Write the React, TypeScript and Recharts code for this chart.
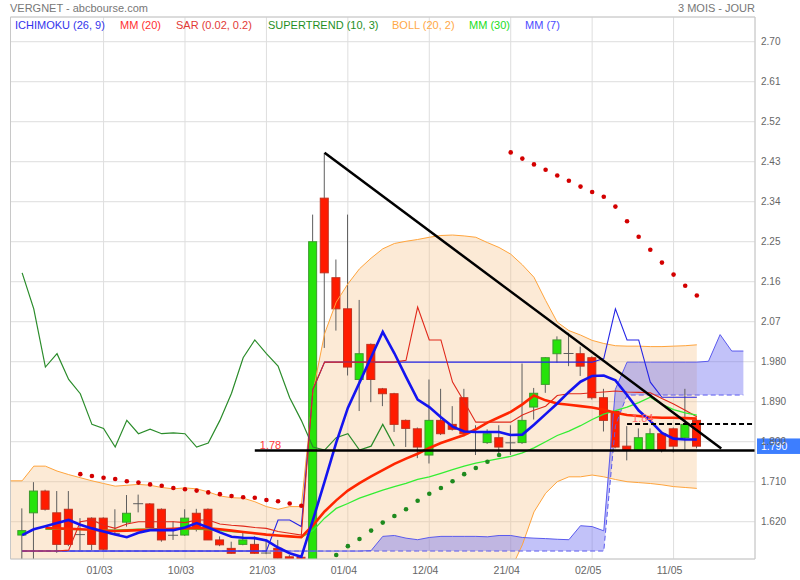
import React from 'react';
import {
  ComposedChart,
  Bar,
  Line,
  Area,
  Scatter,
  XAxis,
  YAxis,
  CartesianGrid,
  ReferenceLine,
} from 'recharts';

const FONT = '"Liberation Sans", Arial, sans-serif';

// Daily sessions, index 0 = 19/02, last index 58 = 13/05
const opens = [
  1.590, 1.640, 1.689, 1.640, 1.648, 1.592, 1.628, 1.628, 1.594, 1.619,
  1.661, 1.660, 1.648, 1.590, 1.590, 1.639, 1.648, 1.579, 1.560, 1.569,
  1.569, 1.550, 1.560, 1.541, 1.540, 1.530, 2.348, 2.169, 2.099, 1.940,
  2.019, 1.919, 1.908, 1.848, 1.829, 1.770, 1.848, 1.839, 1.899, 1.822,
  1.798, 1.809, 1.798, 1.798, 1.878, 1.929, 1.998, 1.999, 1.998, 1.989,
  1.899, 1.868, 1.790, 1.781, 1.781, 1.818, 1.829, 1.809, 1.848,
];
const highs = [
  1.650, 1.709, 1.692, 1.689, 1.689, 1.628, 1.630, 1.630, 1.648, 1.680,
  1.681, 1.662, 1.650, 1.621, 1.648, 1.649, 1.650, 1.587, 1.575, 1.597,
  1.587, 1.579, 1.579, 1.545, 1.545, 2.311, 2.450, 2.210, 2.311, 2.119,
  2.021, 1.921, 1.910, 1.850, 1.832, 1.940, 1.919, 1.880, 1.919, 1.837,
  1.828, 1.837, 1.837, 1.976, 1.921, 1.990, 2.037, 2.045, 2.014, 1.992,
  1.919, 1.870, 1.835, 1.830, 1.830, 1.820, 1.832, 1.919, 1.850,
];
const lows = [
  1.530, 1.530, 1.645, 1.550, 1.565, 1.556, 1.556, 1.556, 1.590, 1.609,
  1.641, 1.607, 1.575, 1.579, 1.588, 1.598, 1.579, 1.565, 1.548, 1.567,
  1.548, 1.547, 1.537, 1.530, 1.525, 1.525, 2.011, 2.050, 1.949, 1.869,
  1.889, 1.880, 1.822, 1.788, 1.763, 1.751, 1.815, 1.825, 1.812, 1.770,
  1.795, 1.770, 1.770, 1.795, 1.850, 1.910, 1.978, 1.970, 1.948, 1.895,
  1.823, 1.785, 1.758, 1.779, 1.779, 1.776, 1.776, 1.781, 1.785,
];
const closes = [
  1.600, 1.689, 1.648, 1.569, 1.569, 1.590, 1.569, 1.558, 1.592, 1.639,
  1.660, 1.607, 1.579, 1.589, 1.628, 1.607, 1.579, 1.568, 1.549, 1.579,
  1.549, 1.549, 1.538, 1.535, 1.530, 2.250, 2.180, 2.099, 1.968, 1.998,
  1.940, 1.908, 1.839, 1.830, 1.788, 1.848, 1.818, 1.828, 1.818, 1.820,
  1.818, 1.788, 1.797, 1.848, 1.909, 1.989, 2.029, 1.998, 1.970, 1.899,
  1.848, 1.788, 1.781, 1.809, 1.818, 1.781, 1.790, 1.839, 1.790,
];

// Moving averages, one value per session
const mm7 = [
  1.590, 1.603, 1.610, 1.617, 1.624, 1.613, 1.605, 1.598, 1.591, 1.585,
  1.595, 1.601, 1.601, 1.601, 1.607, 1.617, 1.607, 1.596, 1.586, 1.584,
  1.583, 1.578, 1.562, 1.549, 1.541, 1.624, 1.710, 1.798, 1.876, 1.933,
  1.990, 2.047, 1.999, 1.946, 1.895, 1.878, 1.855, 1.834, 1.823, 1.822,
  1.822, 1.822, 1.815, 1.816, 1.838, 1.862, 1.886, 1.912, 1.935, 1.948,
  1.949, 1.938, 1.905, 1.870, 1.847, 1.820, 1.807, 1.805, 1.805,
];
const mm20 = [
  null, null, 1.606, 1.605, 1.604, 1.603, 1.602, 1.600, 1.599, 1.600,
  1.601, 1.602, 1.603, 1.604, 1.605, 1.606, 1.605, 1.603, 1.600, 1.597,
  1.594, 1.591, 1.589, 1.587, 1.585, 1.612, 1.643, 1.668, 1.690, 1.707,
  1.722, 1.736, 1.750, 1.762, 1.773, 1.786, 1.797, 1.806, 1.815, 1.828,
  1.843, 1.855, 1.867, 1.884, 1.904, 1.893, 1.886, 1.883, 1.880, 1.877,
  1.872, 1.865, 1.860, 1.858, 1.855, 1.854, 1.854, 1.853, 1.852,
];
const mm30 = [
  null, null, 1.603, 1.603, 1.603, 1.602, 1.602, 1.601, 1.601, 1.602,
  1.603, 1.603, 1.604, 1.604, 1.604, 1.603, 1.602, 1.600, 1.598, 1.596,
  1.593, 1.591, 1.589, 1.587, 1.585, 1.600, 1.628, 1.650, 1.661, 1.673,
  1.682, 1.691, 1.699, 1.706, 1.715, 1.721, 1.729, 1.737, 1.745, 1.752,
  1.757, 1.762, 1.767, 1.775, 1.786, 1.800, 1.814, 1.824, 1.836, 1.850,
  1.862, 1.870, 1.878, 1.888, 1.900, 1.884, 1.872, 1.865, 1.860,
];

// Bollinger (20, 2): first value sits one slot before the first session
const bollUpper = [
  1.712, 1.712, 1.745, 1.745, 1.734, 1.726, 1.719, 1.712, 1.706, 1.700,
  1.702, 1.704, 1.702, 1.697, 1.694, 1.696, 1.694, 1.687, 1.678, 1.674,
  1.673, 1.665, 1.654, 1.648, 1.654, 1.654, 1.912, 2.043, 2.114, 2.155,
  2.189, 2.213, 2.234, 2.246, 2.251, 2.255, 2.260, 2.264, 2.265, 2.263,
  2.260, 2.248, 2.237, 2.222, 2.198, 2.170, 2.118, 2.069, 2.050, 2.040,
  2.028, 2.021, 2.016, 2.015, 2.015, 2.014, 2.014, 2.015, 2.016, 2.018,
];
const bollLower = [
  1.500, 1.500, 1.468, 1.467, 1.476, 1.482, 1.487, 1.492, 1.494, 1.498,
  1.498, 1.498, 1.502, 1.509, 1.514, 1.514, 1.518, 1.523, 1.528, 1.526,
  1.521, 1.523, 1.528, 1.530, 1.520, 1.516, 1.312, 1.243, 1.222, 1.225,
  1.225, 1.231, 1.238, 1.254, 1.273, 1.291, 1.312, 1.330, 1.347, 1.367,
  1.396, 1.438, 1.473, 1.512, 1.568, 1.642, 1.684, 1.710, 1.721, 1.721,
  1.725, 1.721, 1.715, 1.710, 1.708, 1.706, 1.703, 1.699, 1.697, 1.695,
];

// Ichimoku (26, 9)
const tenkan = [
  1.554, 1.554, 1.554, 1.554, 1.556, 1.620, 1.624, 1.612, 1.605, 1.615,
  1.620, 1.620, 1.620, 1.620, 1.618, 1.624, 1.624, 1.615, 1.612, 1.610,
  1.607, 1.605, 1.598, 1.594, 1.590, 1.918, 1.979, 1.979, 1.979, 1.979,
  1.979, 1.979, 1.979, 1.983, 2.103, 2.029, 2.029, 1.934, 1.890, 1.844,
  1.844, 1.844, 1.844, 1.860, 1.871, 1.880, 1.904, 1.908, 1.908, 1.910,
  1.912, 1.914, 1.912, 1.911, 1.910, 1.897, 1.885, 1.871, 1.856,
];
const kijun = [
  1.554, 1.554, 1.554, 1.554, 1.554, 1.554, 1.554, 1.554, 1.554, 1.554,
  1.554, 1.554, 1.554, 1.554, 1.554, 1.554, 1.554, 1.554, 1.554, 1.554,
  1.554, 1.554, 1.624, 1.624, 1.609, 1.918, 1.979, 1.979, 1.979, 1.979,
  1.979, 1.979, 1.979, 1.979, 1.979, 1.979, 1.979, 1.979, 1.979, 1.979,
  1.979, 1.979, 1.979, 1.979, 1.979, 1.979, 1.979, 1.979, 1.979, 1.979,
  1.987, 2.099, 2.029, 2.029, 1.934, 1.900, 1.900, 1.900, 1.900,
];
// Senkou A before the first shifted value, then (tenkan + kijun) / 2 moved 26 sessions ahead
const senkouAHead = [
  1.554, 1.554, 1.554, 1.554, 1.554, 1.554, 1.554, 1.554, 1.554, 1.554,
  1.554, 1.554, 1.554, 1.554, 1.554, 1.554, 1.554, 1.554, 1.554, 1.554,
  1.554, 1.554, 1.554, 1.554, 1.554, 1.554,
];
// Senkou B, index 0..62 (cloud runs past the last session)
const senkouB = [
  1.554, 1.554, 1.554, 1.554, 1.554, 1.554, 1.554, 1.554, 1.554, 1.554,
  1.554, 1.554, 1.554, 1.554, 1.554, 1.554, 1.554, 1.554, 1.554, 1.554,
  1.554, 1.554, 1.554, 1.554, 1.554, 1.554, 1.554, 1.554, 1.554, 1.554,
  1.554, 1.554, 1.554, 1.554, 1.554, 1.554, 1.554, 1.554, 1.554, 1.554,
  1.554, 1.554, 1.554, 1.554, 1.554, 1.554, 1.554, 1.554, 1.554, 1.554,
  1.554, 1.836, 1.905, 1.905, 1.905, 1.905, 1.905, 1.905, 1.905, 1.905,
  1.905, 1.905, 1.905,
];
const SHIFT = 26;

// Parabolic SAR (0.02, 0.2)
const sar = [
  null, null, null, null, null, 1.727, 1.723, 1.719, 1.716, 1.711,
  1.708, 1.704, 1.701, 1.696, 1.693, 1.690, 1.686, 1.682, 1.678, 1.675,
  1.674, 1.669, 1.666, 1.661, 1.656, null, null, 1.545, 1.565, 1.581,
  1.600, 1.618, 1.633, 1.648, 1.667, 1.683, 1.696, 1.711, 1.727, 1.741,
  1.755, 1.770, 2.451, 2.437, 2.424, 2.412, 2.399, 2.387, 2.374, 2.362,
  2.351, 2.329, 2.296, 2.261, 2.232, 2.203, 2.176, 2.151, 2.129,
];

// Drawn levels
const supportLevel = 1.78;
const supportFrom = 20;
const resistLevel = 1.84;
const resistFrom = 52;
const trendStart = { i: 26, v: 2.45 };
const trendEnd = { i: 60.1, v: 1.785 };

// Axes
const dateTickIdx = [7, 14, 21, 28, 35, 42, 49, 56];
const dateTickLabels = ['01/03', '10/03', '21/03', '01/04', '12/04', '21/04', '02/05', '11/05'];
const priceTicks = [1.62, 1.71, 1.8, 1.89, 1.98, 2.07, 2.16, 2.25, 2.34, 2.43, 2.52, 2.61, 2.7];
const yDomain: [number, number] = [1.5361, 2.7556];
const xDomain: [number, number] = [-1, 63];

const legendItems = [
  { label: 'ICHIMOKU (26, 9)', color: '#3434EC' },
  { label: 'MM (20)', color: '#FF3030' },
  { label: 'SAR (0.02, 0.2)', color: '#E23A36' },
  { label: 'SUPERTREND (10, 3)', color: '#1F8F1F' },
  { label: 'BOLL (20, 2)', color: '#FFA845' },
  { label: 'MM (30)', color: '#22DD22' },
  { label: 'MM (7)', color: '#4B4BFF' },
];
const legendX = [15, 120, 176, 268, 392, 469, 525];

const lastClose = closes[closes.length - 1];
const fmtPrice = (v: number) => (v >= 2 ? v.toFixed(2) : v.toFixed(3));

type Row = Record<string, any>;
const rows: Row[] = [];
for (let i = xDomain[0]; i <= 62; i++) {
  const r: Row = { i };
  if (i >= 0 && i < closes.length) {
    r.open = opens[i];
    r.high = highs[i];
    r.low = lows[i];
    r.close = closes[i];
    r.mm7 = mm7[i];
    r.mm20 = mm20[i];
    r.mm30 = mm30[i];
    r.tenkan = tenkan[i];
    r.kijun = kijun[i];
    r.sar = sar[i];
  }
  const b = i - xDomain[0];
  if (b < bollUpper.length) {
    r.bollUp = bollUpper[b];
    r.bollLow = bollLower[b];
  }
  if (i >= 0) {
    r.spanA = i < SHIFT ? senkouAHead[i] : (tenkan[i - SHIFT] + kijun[i - SHIFT]) / 2;
    r.spanB = senkouB[i];
  }
  if (i >= 0 && i + SHIFT < closes.length) r.chikou = closes[i + SHIFT];
  rows.push(r);
}

const candleRange = (d: Row) => (d.high == null ? null : [d.low, d.high]);
const bollRange = (d: Row) => (d.bollUp == null ? null : [d.bollLow, d.bollUp]);
const cloudRange = (d: Row) => (d.spanA == null ? null : [d.spanB, d.spanA]);

const WICK = '#5E5E5E';

function Candle(props: any) {
  const { x, y, width, height, payload } = props;
  if (!payload || payload.open == null || !isFinite(y) || !isFinite(height)) return <g />;
  const { open, close, high, low } = payload;
  let top = y;
  let h = height;
  if (h < 0) {
    top = y + h;
    h = -h;
  }
  const k = h / (high - low);
  const py = (v: number) => top + (high - v) * k;
  const cx = x + width / 2;
  const bodyTop = py(Math.max(open, close));
  const bodyBot = py(Math.min(open, close));
  const doji = Math.abs(close - open) < 0.004;
  const rising = close > open;
  return (
    <g>
      <line x1={cx} x2={cx} y1={top} y2={top + h} stroke={WICK} strokeWidth={1} />
      {doji ? (
        <line x1={cx - 5} x2={cx + 5} y1={(bodyTop + bodyBot) / 2} y2={(bodyTop + bodyBot) / 2} stroke={WICK} strokeWidth={1} />
      ) : (
        <rect
          x={cx - 4}
          y={bodyTop}
          width={8}
          height={Math.max(1, bodyBot - bodyTop)}
          fill={rising ? '#26E30A' : '#FF1B00'}
          stroke={rising ? '#3D9A2D' : '#C3301C'}
          strokeWidth={1}
        />
      )}
    </g>
  );
}

function SarDot(props: any) {
  const { cx, cy, payload } = props;
  if (!payload || payload.sar == null || !isFinite(cx) || !isFinite(cy)) return <g />;
  const above = payload.sar > payload.close;
  return <circle cx={cx} cy={cy} r={2.3} fill={above ? '#D30000' : '#1E8A1E'} />;
}

function DateTick(props: any) {
  const { x, y, payload } = props;
  const idx = dateTickIdx.indexOf(payload.value);
  return (
    <text x={x - 4} y={y} dy="0.71em" textAnchor="middle" fill="#666" fontSize={10.5} fontFamily={FONT}>
      {idx >= 0 ? dateTickLabels[idx] : ''}
    </text>
  );
}

function PriceTick(props: any) {
  const { x, y, payload } = props;
  return (
    <text x={x - 2} y={y} dy="0.355em" textAnchor="start" fill="#666" fontSize={10} fontFamily={FONT}>
      {fmtPrice(payload.value)}
    </text>
  );
}

function LevelLabel(props: any) {
  const { viewBox, text, color } = props;
  if (!viewBox) return null;
  return (
    <text x={viewBox.x + 5} y={viewBox.y - 2} fill={color} fontSize={11} fontFamily={FONT}>
      {text}
    </text>
  );
}

function PriceTag(props: any) {
  const { viewBox } = props;
  if (!viewBox) return null;
  const left = viewBox.x + viewBox.width + 2;
  return (
    <g>
      <rect x={left} y={viewBox.y - 7.7} width={44} height={15.5} fill="#3D7EFF" />
      <text x={left + 4} y={viewBox.y} dy="0.36em" fill="#fff" fontSize={10.5} fontFamily={FONT}>
        {fmtPrice(lastClose)}
      </text>
    </g>
  );
}

export default function App() {
  return (
    <div style={{ position: 'absolute', left: 0, top: 0, width: 800, height: 580, background: '#fff', fontFamily: FONT }}>
      <ComposedChart width={800} height={580} data={rows} margin={{ top: 17, right: 0, bottom: 0, left: 10.5 }}>
        <CartesianGrid stroke="#DEDEDE" />
        <XAxis
          type="number"
          dataKey="i"
          domain={xDomain}
          ticks={dateTickIdx}
          allowDataOverflow
          height={21}
          axisLine={{ stroke: '#C8C8C8' }}
          tickLine={false}
          tick={<DateTick />}
        />
        <YAxis
          type="number"
          orientation="right"
          domain={yDomain}
          ticks={priceTicks}
          allowDataOverflow
          width={45}
          axisLine={{ stroke: '#C8C8C8' }}
          tickLine={false}
          tick={<PriceTick />}
        />
        <ReferenceLine y={yDomain[1]} stroke="#C8C8C8" />
        <ReferenceLine x={xDomain[0]} stroke="#C8C8C8" />

        <Area dataKey={bollRange} fill="#F7C48A" fillOpacity={0.35} stroke="none" isAnimationActive={false} />
        <Area dataKey={cloudRange} fill="#6E6EF0" fillOpacity={0.42} stroke="none" isAnimationActive={false} />
        <Line dataKey="bollUp" stroke="#FFA43C" strokeWidth={1} dot={false} isAnimationActive={false} />
        <Line dataKey="bollLow" stroke="#FFA43C" strokeWidth={1} dot={false} isAnimationActive={false} />
        <Line dataKey="spanA" stroke="#5A5AEE" strokeWidth={1} dot={false} isAnimationActive={false} />
        <Line dataKey="spanB" stroke="#5A5AEE" strokeWidth={1} strokeDasharray="5 3" dot={false} isAnimationActive={false} />
        <Line dataKey="chikou" stroke="#2B8C2B" strokeWidth={1.2} dot={false} isAnimationActive={false} />

        <Bar dataKey={candleRange} shape={<Candle />} barSize={9} isAnimationActive={false} />

        <Line dataKey="kijun" stroke="#2424E6" strokeWidth={1.1} dot={false} isAnimationActive={false} />
        <Line dataKey="tenkan" stroke="#E0281A" strokeWidth={1.1} dot={false} isAnimationActive={false} />
        <Line dataKey="mm30" stroke="#33EE33" strokeWidth={1.3} dot={false} isAnimationActive={false} />
        <Line dataKey="mm20" stroke="#FF2600" strokeWidth={2.6} dot={false} isAnimationActive={false} />
        <Line dataKey="mm7" stroke="#1414F0" strokeWidth={2.6} dot={false} isAnimationActive={false} />
        <Scatter dataKey="sar" shape={<SarDot />} isAnimationActive={false} />

        <ReferenceLine
          segment={[{ x: supportFrom, y: supportLevel }, { x: xDomain[1], y: supportLevel }]}
          stroke="#000"
          strokeWidth={2.5}
          label={<LevelLabel text={String(supportLevel)} color="#FF3A3A" />}
        />
        <ReferenceLine
          segment={[{ x: resistFrom, y: resistLevel }, { x: xDomain[1], y: resistLevel }]}
          stroke="#000"
          strokeWidth={2}
          strokeDasharray="5 3"
          label={<LevelLabel text={String(resistLevel)} color="#FF6A6A" />}
        />
        <ReferenceLine
          segment={[{ x: trendStart.i, y: trendStart.v }, { x: trendEnd.i, y: trendEnd.v }]}
          stroke="#000"
          strokeWidth={2.5}
        />
        <ReferenceLine y={lastClose} stroke="none" label={<PriceTag />} />
      </ComposedChart>

      <svg width={800} height={580} style={{ position: 'absolute', left: 0, top: 0, pointerEvents: 'none' }}>
        <text x={10} y={12} fill="#777" fontSize={11} fontFamily={FONT}>VERGNET - abcbourse.com</text>
        <text x={755} y={12} textAnchor="end" fill="#777" fontSize={11} fontFamily={FONT}>3 MOIS - JOUR</text>
        {legendItems.map((it, k) => (
          <text key={it.label} x={legendX[k]} y={28.5} fill={it.color} fontSize={11} fontFamily={FONT}>
            {it.label}
          </text>
        ))}
      </svg>
    </div>
  );
}
